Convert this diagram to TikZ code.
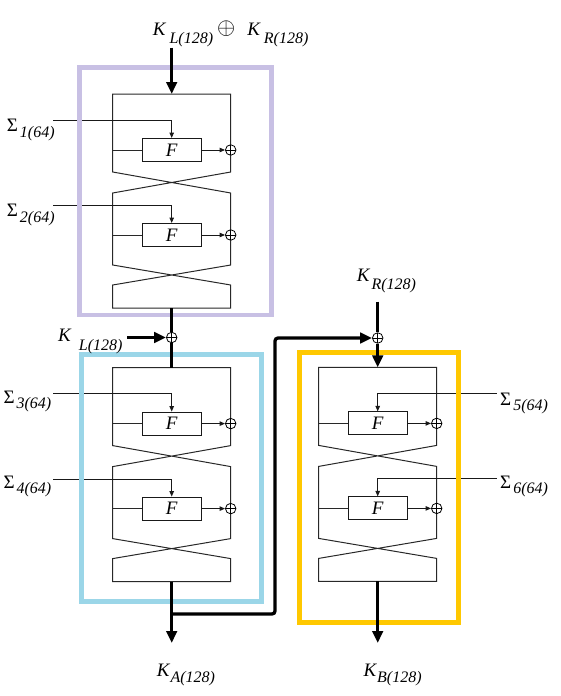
\documentclass[tikz,border=0pt]{standalone}
\usepackage{fontspec}
\setmainfont{Liberation Serif}
\usetikzlibrary{arrows.meta}

\definecolor{framepurple}{RGB}{200,192,228}
\definecolor{framecyan}{RGB}{155,214,232}
\definecolor{frameyellow}{RGB}{255,200,0}
\definecolor{railgray}{RGB}{40,40,40}

% italic subscript set lower than the base line
\newcommand\subtxt[2][8]{\raisebox{-#1pt}{\fontsize{16}{16}\selectfont\itshape #2}}
\newcommand\keylab[3][8]{{\itshape K}\hspace{#2}\subtxt[#1]{#3}}
\newcommand\sigmalab[1]{Σ\hspace{2pt}\subtxt[5.5]{#1}}

% two Feistel rounds with their swaps, drawn about the local axis x=0, top at y=0
% #1 name prefix, #2 x where the subkey lines enter
\newcommand\feistelbody[2]{%
  \draw[rail] (-59,0) -- (-59,78) -- (59,99) -- (59,171) -- (-59,191) -- (-59,214)
     -- (59,214) -- (59,191) -- (-59,171) -- (-59,99) -- (59,78) -- (59,0) -- cycle;
  \node[fbox] (#1f1) at (0,56) {F};
  \node[fbox] (#1f2) at (0,141) {F};
  \node[xorc] (#1x1) at (59,56) {};
  \node[xorc] (#1x2) at (59,141) {};
  \coordinate (#1l1) at (-59,56);
  \coordinate (#1l2) at (-59,141);
  \coordinate (#1s1) at (#2,26);
  \coordinate (#1s2) at (#2,111.4);
  \coordinate (#1top) at (0,0);
  \coordinate (#1bot) at (0,214);
  \draw[rail] (#1l1) -- (#1f1.west);
  \draw[rail] (#1l2) -- (#1f2.west);
  \draw[feed] (#1f1.east) -- (#1x1.west);
  \draw[feed] (#1f2.east) -- (#1x2.west);
  \draw[feed] (#1s1) -| (#1f1.north);
  \draw[feed] (#1s2) -| (#1f2.north);
}

\begin{document}
\begin{tikzpicture}[x=1pt,y=-1pt,
  rail/.style={draw=railgray,line width=1pt},
  fbox/.style={draw=black!90,line width=1pt,fill=white,minimum width=59pt,
    minimum height=23pt,inner sep=0pt,font=\fontsize{19}{19}\selectfont\itshape},
  xorc/.style={circle,draw=black,fill=white,line width=0.8pt,minimum size=10.5pt,
    inner sep=0pt,path picture={\draw[line width=0.8pt]
      (path picture bounding box.north) -- (path picture bounding box.south)
      (path picture bounding box.west) -- (path picture bounding box.east);}},
  feed/.style={draw=black!90,line width=1pt,-{Triangle[length=5.5pt,width=4.5pt]}},
  bus/.style={line width=3.3pt,black},
  busarrow/.style={bus,-{Triangle[length=12pt,width=10.5pt]}},
  frame/.style={line width=4.7pt},
  lbl/.style={inner sep=0pt,anchor=base west,font=\fontsize{19}{20}\selectfont},
]
\useasboundingbox (0,0) rectangle (561,696);

% Feistel blocks
\begin{scope}[shift={(171.7,94)}]
  \feistelbody{a}{-118.4}
\end{scope}
\begin{scope}[shift={(171.7,367.6)}]
  \feistelbody{b}{-118.4}
\end{scope}
\begin{scope}[shift={(377.7,367.4)}]
  \feistelbody{c}{119}
\end{scope}

% coloured frames
\draw[frame,framepurple] (79.8,67.8) rectangle (271.7,315);
\draw[frame,framecyan] (81.8,354.5) rectangle (261.5,601.3);
\draw[frame,frameyellow] (299.8,352.5) rectangle (458.5,622.5);

% 128-bit data paths
\coordinate (kinend) at (171.7,47.7);
\draw[busarrow] (kinend) -- (atop);

\node[xorc] (mx) at (171.7,337.5) {};
\draw[bus] (abot) -- (mx.north);
\draw[bus] (mx.south) -- (btop);
\coordinate (klstart) at (127.3,337.5);
\draw[busarrow] (klstart) -- (mx.west);

\coordinate (aout) at (171.7,643);
\draw[busarrow] (bbot) -- (aout);

\node[xorc] (rx) at (377.7,338) {};
\coordinate (split) at (171.7,614);
\coordinate (turn) at (275,338);
\draw[busarrow,rounded corners=3pt] (split) -| (turn) -- (rx.west);
\coordinate (krstart) at (377.7,301.7);
\draw[bus] (krstart) -- (rx.north);
\draw[busarrow] (rx.south) -- (ctop);

\coordinate (bout) at (377.7,643);
\draw[busarrow] (cbot) -- (bout);

% key labels
\node[lbl] (kin) at (152.7,35) {\keylab{4pt}{L(128)}\hspace{4pt}\raisebox{0.5pt}{\scalebox{1.35}{$\oplus$}}\hspace{12pt}\keylab{4pt}{R(128)}};
\node[lbl] (kl) at (58,341) {\keylab[9]{8pt}{L(128)}};
\node[lbl] (kr) at (356.7,281.7) {\keylab{2pt}{R(128)}};
\node[lbl] (ka) at (156.7,676) {\keylab[6]{1pt}{A(128)}};
\node[lbl] (kb) at (363.3,676) {\keylab[6]{1pt}{B(128)}};

% subkey labels
\node[lbl] (sg1) at (6.7,131.7) {\sigmalab{1(64)}};
\node[lbl] (sg2) at (6.7,216.7) {\sigmalab{2(64)}};
\node[lbl] (sg3) at (3.3,403.3) {\sigmalab{3(64)}};
\node[lbl] (sg4) at (3.3,488.3) {\sigmalab{4(64)}};
\node[lbl] (sg5) at (500,405) {\sigmalab{5(64)}};
\node[lbl] (sg6) at (500,488.3) {\sigmalab{6(64)}};
\end{tikzpicture}
\end{document}
